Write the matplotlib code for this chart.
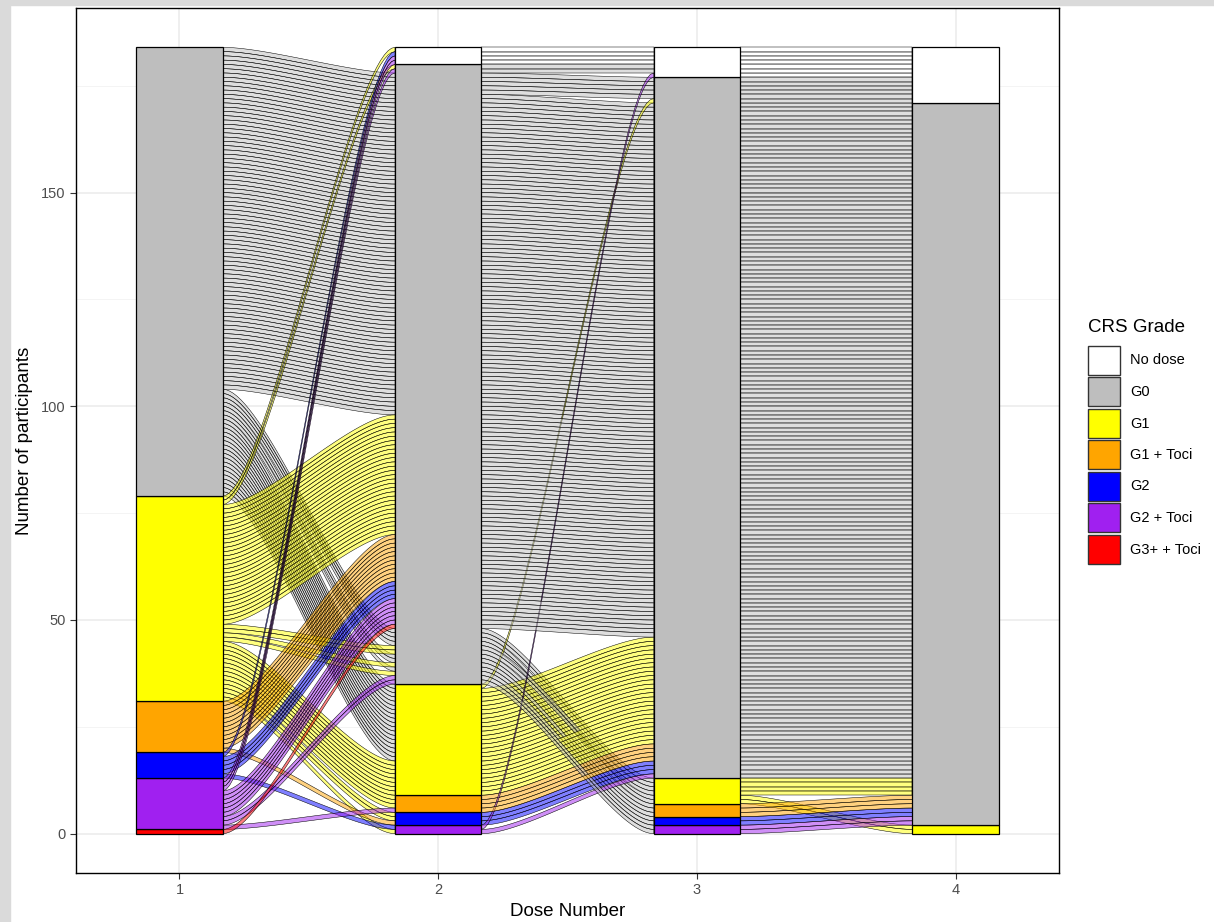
import matplotlib
matplotlib.use("Agg")
import matplotlib.pyplot as plt
from matplotlib.patches import Polygon, Rectangle
import numpy as np

plt.rcParams['font.family'] = ['Liberation Sans', 'DejaVu Sans']

grades = ["No dose", "G0", "G1", "G1 + Toci", "G2", "G2 + Toci", "G3+ + Toci"]
grade_colors = ["#FFFFFF", "#BEBEBE", "#FFFF00", "#FFA500", "#0000FF", "#A020F0", "#FF0000"]
doses = [1, 2, 3, 4]
N, G0, G1, G1T, G2, G2T, G3T = grades

# CRS grade pathways over the 4 doses and number of participants on each
dose1 = [G0, G0, G0, G0, G0, G0, G0, G0,
         G1, G1, G1, G1, G1, G1, G1, G1, G1, G1,
         G1T, G1T,
         G2, G2, G2,
         G2T, G2T, G2T, G2T, G2T,
         G3T]
dose2 = [G0, G0, G0, G0, G0, G0, G1, G1,
         N, G0, G0, G0, G0, G0, G1, G1T, G2, G2T,
         G0, G2,
         N, G0, G2T,
         N, G0, G0, G0, G1T,
         G0]
dose3 = [G0, G0, G1, G1, G1T, G2, G0, G0,
         N, N, G0, G1, G1T, G2, G0, G0, G0, G0,
         G0, G0,
         N, G0, N,
         N, N, G0, G2T, G0,
         G0]
dose4 = [G0, N, G0, G1, G0, G0, G0, N,
         N, N, G0, G0, G0, G0, G0, G0, G0, G0,
         G0, G0,
         N, G0, N,
         N, N, G0, G0, G0,
         G0]
n_part = [75, 5, 2, 2, 2, 1, 17, 1,
          1, 1, 28, 2, 1, 1, 8, 3, 2, 1,
          11, 1,
          1, 4, 1,
          2, 1, 6, 2, 1,
          1]

rank = {g: i for i, g in enumerate(grades)}
people = []
for k in range(len(n_part)):
    for _ in range(n_part[k]):
        people.append([rank[dose1[k]], rank[dose2[k]], rank[dose3[k]], rank[dose4[k]]])
people = np.array(people)
total = len(people)

# lode ordering inside each stratum (zigzag guidance like ggalluvial)
guidance = [[0, 1, 2, 3], [1, 2, 0, 3], [2, 3, 1, 0], [3, 2, 1, 0]]
ytop = np.zeros((total, 4))
for a in range(4):
    order = sorted(range(total), key=lambda p: tuple(people[p, g] for g in guidance[a]) + (p,))
    for pos, p in enumerate(order):
        ytop[p, a] = total - pos

w = 1/3

def curve(x0, x1, y0, y1, n=40):
    t = np.linspace(0, 1, n)
    g = x1 - x0
    px = [x0, x0 + 0.25*g, x1 - 0.25*g, x1]
    py = [y0, y0, y1, y1]
    b = [(1-t)**3, 3*(1-t)**2*t, 3*(1-t)*t**2, t**3]
    xs = sum(b[i]*px[i] for i in range(4))
    ys = sum(b[i]*py[i] for i in range(4))
    return xs, ys

fig = plt.figure(figsize=(12.14, 9.22), dpi=100)
fig.patches.append(Rectangle((0, 0), 10/1214, 1, transform=fig.transFigure, color='#DADADA', zorder=0))
fig.patches.append(Rectangle((0, 1 - 5/922), 1, 5/922, transform=fig.transFigure, color='#DADADA', zorder=0))
ax = fig.add_axes([76/1214, 49/922, 983/1214, 865/922])

for p in range(total):
    for a in range(3):
        x0 = doses[a] + w/2
        x1 = doses[a+1] - w/2
        xt, yt = curve(x0, x1, ytop[p, a], ytop[p, a+1])
        xb, yb = curve(x0, x1, ytop[p, a] - 1, ytop[p, a+1] - 1)
        pts = np.column_stack([np.concatenate([xt, xb[::-1]]), np.concatenate([yt, yb[::-1]])])
        ax.add_patch(Polygon(pts, closed=True, facecolor=grade_colors[people[p, a]],
                             alpha=0.5, edgecolor='none', zorder=2))
        ax.add_patch(Polygon(pts, closed=True, facecolor='none',
                             edgecolor='black', lw=0.35, zorder=2))

# strata
for a in range(4):
    bottom = 0
    for gi in range(len(grades) - 1, -1, -1):
        c = int(np.sum(people[:, a] == gi))
        if c > 0:
            ax.bar(doses[a], c, width=w, bottom=bottom, color=grade_colors[gi],
                   edgecolor='black', linewidth=0.9, zorder=3)
            bottom += c

ax.set_xlim(0.6, 4.4)
ax.set_ylim(-9.2, 193.2)
ax.set_xticks(doses)
ax.set_yticks([0, 50, 100, 150])
ax.set_yticks([25, 75, 125, 175], minor=True)
ax.grid(True, which='major', color='#EBEBEB', lw=1.1)
ax.grid(True, which='minor', axis='y', color='#F2F2F2', lw=0.6)
ax.set_axisbelow(True)
ax.tick_params(axis='both', which='major', colors='#333333', labelcolor='#4D4D4D',
               labelsize=10.5, length=4, width=0.8)
ax.tick_params(axis='y', which='minor', length=0)
for s in ax.spines.values():
    s.set_color('black')
    s.set_linewidth(1.0)
ax.set_xlabel('Dose Number', fontsize=13.5, labelpad=4)
ax.set_ylabel('Number of participants', fontsize=13.5, labelpad=6)

# legend drawn by hand to get the ggplot key size
W, H = 1214, 922
fig.text(1088/W, 1 - 327/H, 'CRS Grade', fontsize=13.5, ha='left', va='center')
for i, (g, c) in enumerate(zip(grades, grade_colors)):
    top = 346 + i*31.5
    fig.patches.append(Rectangle((1088/W, 1 - (top + 29)/H), 32/W, 29/H,
                                 transform=fig.transFigure, facecolor=c,
                                 edgecolor='#333333', lw=1.0))
    fig.text(1130/W, 1 - (top + 14.5)/H, g, fontsize=10.5, ha='left', va='center')

fig.savefig('out.png', dpi=100)
